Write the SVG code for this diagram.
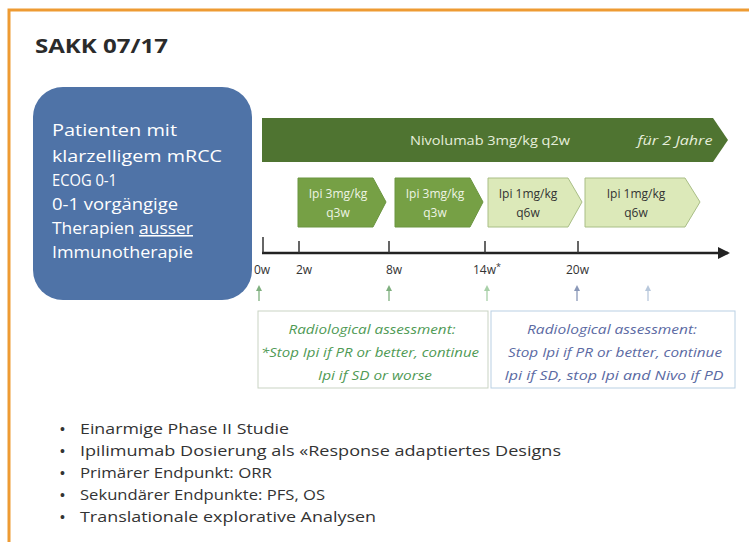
<svg xmlns="http://www.w3.org/2000/svg" width="749" height="542" viewBox="0 0 749 542">
<style>
.pt{font-family:"Open Sans","Liberation Sans",sans-serif;fill:#fff;font-size:15.5px}
.ct{font-family:"Open Sans","Liberation Sans",sans-serif;font-size:12px;text-anchor:middle}
.ax{font-family:"Open Sans","Liberation Sans",sans-serif;font-size:12px;fill:#333}
.ra{font-family:"Open Sans","Liberation Sans",sans-serif;font-size:13px;font-style:italic;text-anchor:middle}
.bl{font-family:"Open Sans","Liberation Sans",sans-serif;font-size:14.5px;fill:#333}
.dot{font-family:"Liberation Sans",sans-serif;font-size:14px;fill:#333}
.dk{fill:#76a045;stroke:#6b9540;stroke-width:1}
.lt{fill:#dce9b9;stroke:#a9be86;stroke-width:1}
.tick{stroke:#333;stroke-width:1.5}
</style>
<defs>
<marker id="ah" markerWidth="12" markerHeight="12" refX="10" refY="6" orient="auto" markerUnits="userSpaceOnUse"><path d="M0,0 L12,6 L0,12 Z" fill="#222"/></marker>
</defs>
<rect width="749" height="542" fill="#fff"/>
<path d="M9,542 V10 H749" fill="none" stroke="#ee9b33" stroke-width="3"/>
<text x="35" y="53" font-family="Open Sans, Liberation Sans, sans-serif" font-size="20" font-weight="bold" fill="#2b2b2b" textLength="133" lengthAdjust="spacingAndGlyphs">SAKK 07/17</text>

<g id="patients">
<rect x="33" y="87" width="219" height="213" rx="30" fill="#4f73a7"/>
<text x="52" y="136" class="pt" textLength="125" lengthAdjust="spacingAndGlyphs">Patienten mit</text>
<text x="52" y="162" class="pt" textLength="170" lengthAdjust="spacingAndGlyphs">klarzelligem mRCC</text>
<text x="52" y="186" class="pt" textLength="65" lengthAdjust="spacingAndGlyphs">ECOG 0-1</text>
<text x="52" y="210" class="pt" textLength="126" lengthAdjust="spacingAndGlyphs">0-1 vorgängige</text>
<text x="52" y="234" class="pt" textLength="141" lengthAdjust="spacingAndGlyphs">Therapien <tspan text-decoration="underline">ausser</tspan></text>
<text x="52" y="258" class="pt" textLength="141" lengthAdjust="spacingAndGlyphs">Immunotherapie</text>
</g>

<g id="nivolumab">
<path d="M262,118 H713 L728,140 L713,162 H262 Z" fill="#4f7431"/>
<text x="490" y="145" class="ct" fill="#e6eedb" font-size="13" textLength="160" lengthAdjust="spacingAndGlyphs">Nivolumab 3mg/kg q2w</text>
<text x="675" y="145" class="ct" fill="#e6eedb" font-size="13" font-style="italic" textLength="75" lengthAdjust="spacingAndGlyphs">für 2 Jahre</text>
</g>

<g id="ipi1">
<path d="M298,178 H373 L386,202 L373,227 H298 Z" class="dk"/>
<text x="338" y="198" class="ct" fill="#eef4e4">Ipi 3mg/kg</text>
<text x="338" y="217" class="ct" fill="#eef4e4">q3w</text>
</g>
<g id="ipi2">
<path d="M395,178 H470 L483,202 L470,227 H395 Z" class="dk"/>
<text x="435" y="198" class="ct" fill="#eef4e4">Ipi 3mg/kg</text>
<text x="435" y="217" class="ct" fill="#eef4e4">q3w</text>
</g>
<g id="ipi3">
<path d="M488,178 H568 L582,202 L568,227 H488 Z" class="lt"/>
<text x="528" y="198" class="ct" fill="#333">Ipi 1mg/kg</text>
<text x="528" y="217" class="ct" fill="#333">q6w</text>
</g>
<g id="ipi4">
<path d="M585,178 H685 L700,202 L685,227 H585 Z" class="lt"/>
<text x="636" y="198" class="ct" fill="#333">Ipi 1mg/kg</text>
<text x="636" y="217" class="ct" fill="#333">q6w</text>
</g>

<g id="connectors">
<line x1="262" y1="253" x2="728" y2="253" stroke="#222" stroke-width="2.5" marker-end="url(#ah)"/>
<line x1="263" y1="237" x2="263" y2="253" class="tick"/>
<line x1="299" y1="241" x2="299" y2="253" class="tick"/>
<line x1="389" y1="241" x2="389" y2="253" class="tick"/>
<line x1="485" y1="241" x2="485" y2="253" class="tick"/>
<line x1="578" y1="241" x2="578" y2="253" class="tick"/>
<g stroke-width="1.3">
<line x1="259" y1="301" x2="259" y2="290" stroke="#7fb07f"/><path d="M256,291 L259,285 L262,291 Z" fill="#7fb07f"/>
<line x1="389" y1="301" x2="389" y2="290" stroke="#7fb07f"/><path d="M386,291 L389,285 L392,291 Z" fill="#7fb07f"/>
<line x1="487" y1="301" x2="487" y2="290" stroke="#a8d0a8"/><path d="M484,291 L487,285 L490,291 Z" fill="#a8d0a8"/>
<line x1="577" y1="301" x2="577" y2="290" stroke="#8a98b8"/><path d="M574,291 L577,285 L580,291 Z" fill="#8a98b8"/>
<line x1="648" y1="301" x2="648" y2="290" stroke="#b8c8dc"/><path d="M645,291 L648,285 L651,291 Z" fill="#b8c8dc"/>
</g>
</g>

<g id="axis-labels">
<text x="254" y="274" class="ax">0w</text>
<text x="296" y="274" class="ax">2w</text>
<text x="386" y="274" class="ax">8w</text>
<text x="473" y="274" class="ax">14w<tspan dy="-4" font-size="9">*</tspan></text>
<text x="566" y="274" class="ax">20w</text>
</g>

<g id="assess1">
<rect x="258" y="311" width="230" height="77" fill="#fff" stroke="#c9d3c3" stroke-width="1"/>
<text x="372" y="334" class="ra" fill="#4f9a55" textLength="167" lengthAdjust="spacingAndGlyphs">Radiological assessment:</text>
<text x="370" y="357" class="ra" fill="#4f9a55" textLength="218" lengthAdjust="spacingAndGlyphs">*Stop Ipi if PR or better, continue</text>
<text x="375" y="380" class="ra" fill="#4f9a55" textLength="114" lengthAdjust="spacingAndGlyphs">Ipi if SD or worse</text>
</g>
<g id="assess2">
<rect x="491" y="311" width="244" height="77" fill="#fff" stroke="#b9d0e3" stroke-width="1"/>
<text x="612" y="334" class="ra" fill="#5b6aa3" textLength="170" lengthAdjust="spacingAndGlyphs">Radiological assessment:</text>
<text x="615" y="357" class="ra" fill="#5b6aa3" textLength="214" lengthAdjust="spacingAndGlyphs">Stop Ipi if PR or better, continue</text>
<text x="614" y="380" class="ra" fill="#5b6aa3" textLength="219" lengthAdjust="spacingAndGlyphs">Ipi if SD, stop Ipi and Nivo if PD</text>
</g>

<g id="bullets">
<text x="60" y="434" class="dot">•</text><text x="80" y="434" class="bl" textLength="209" lengthAdjust="spacingAndGlyphs">Einarmige Phase II Studie</text>
<text x="60" y="456" class="dot">•</text><text x="80" y="456" class="bl" textLength="481" lengthAdjust="spacingAndGlyphs">Ipilimumab Dosierung als «Response adaptiertes Designs</text>
<text x="60" y="478" class="dot">•</text><text x="80" y="478" class="bl" textLength="192" lengthAdjust="spacingAndGlyphs">Primärer Endpunkt: ORR</text>
<text x="60" y="500" class="dot">•</text><text x="80" y="500" class="bl" textLength="245" lengthAdjust="spacingAndGlyphs">Sekundärer Endpunkte: PFS, OS</text>
<text x="60" y="522" class="dot">•</text><text x="80" y="522" class="bl" textLength="296" lengthAdjust="spacingAndGlyphs">Translationale explorative Analysen</text>
</g>
</svg>
